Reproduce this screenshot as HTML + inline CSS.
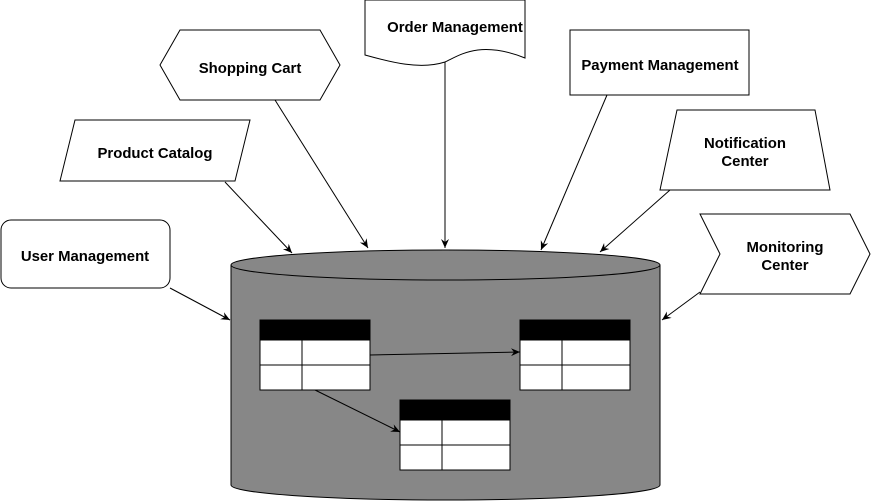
<!DOCTYPE html>
<html><head><style>body{margin:0;background:#fff}svg{display:block}text{font-family:"Liberation Sans",sans-serif;font-weight:bold;font-size:14.9px;text-anchor:middle}</style></head><body>
<svg width="871" height="501" viewBox="0 0 871 501">
<defs><marker id="a" markerWidth="10" markerHeight="10" refX="9" refY="5" orient="auto" markerUnits="userSpaceOnUse"><path d="M0,1 L9,5 L0,9 L3,5 z" fill="#000"/></marker></defs>
<g stroke="#000" fill="#fff" stroke-width="1">
<path d="M231,265 L231,485 A214.5,15 0 0 0 660,485 L660,265" fill="#878787"/>
<ellipse cx="445.5" cy="265" rx="214.5" ry="15" fill="#878787"/>
<rect x="1" y="220" width="169" height="68" rx="10"/>
<path d="M75,120 L250,120 L235,181 L60,181 z"/>
<path d="M180,30 L320,30 L340,65 L320,100 L180,100 L160,65 z"/>
<path d="M365,0 L525,0 L525,58 C480,40 460,55 445,62 C420,70 390,62 365,55 z"/>
<rect x="570" y="30" width="179" height="65"/>
<path d="M677,110 L815,110 L830,190 L660,190 z"/>
<path d="M700,214 L850,214 L870,254 L850,294 L700,294 L720,254 z"/>
</g>
<g stroke="#000" fill="none" marker-end="url(#a)">
<line x1="170" y1="288" x2="230" y2="320"/>
<line x1="225" y1="182" x2="292" y2="253"/>
<line x1="275" y1="100" x2="368" y2="248"/>
<line x1="445" y1="62" x2="445" y2="248"/>
<line x1="607" y1="95" x2="541" y2="250"/>
<line x1="670" y1="190" x2="600" y2="252"/>
<line x1="700" y1="292" x2="662" y2="320"/>
</g>
<g stroke="#000" fill="#fff">
<rect x="260" y="320" width="110" height="70"/><rect x="260" y="320" width="110" height="20" fill="#000"/>
<line x1="260" y1="365" x2="370" y2="365"/><line x1="302" y1="340" x2="302" y2="390"/>
<rect x="520" y="320" width="110" height="70"/><rect x="520" y="320" width="110" height="20" fill="#000"/>
<line x1="520" y1="365" x2="630" y2="365"/><line x1="562" y1="340" x2="562" y2="390"/>
<rect x="400" y="400" width="110" height="70"/><rect x="400" y="400" width="110" height="20" fill="#000"/>
<line x1="400" y1="445" x2="510" y2="445"/><line x1="442" y1="420" x2="442" y2="470"/>
</g>
<g stroke="#000" fill="none" marker-end="url(#a)">
<line x1="370" y1="355" x2="520" y2="352"/>
<line x1="315" y1="390" x2="400" y2="432"/>
</g>
<text x="85" y="261">User Management</text>
<text x="155" y="158">Product Catalog</text>
<text x="250" y="73">Shopping Cart</text>
<text x="455" y="32">Order Management</text>
<text x="660" y="70">Payment Management</text>
<text x="745" y="148">Notification</text><text x="745" y="166">Center</text>
<text x="785" y="252">Monitoring</text><text x="785" y="270">Center</text>
</svg></body></html>
